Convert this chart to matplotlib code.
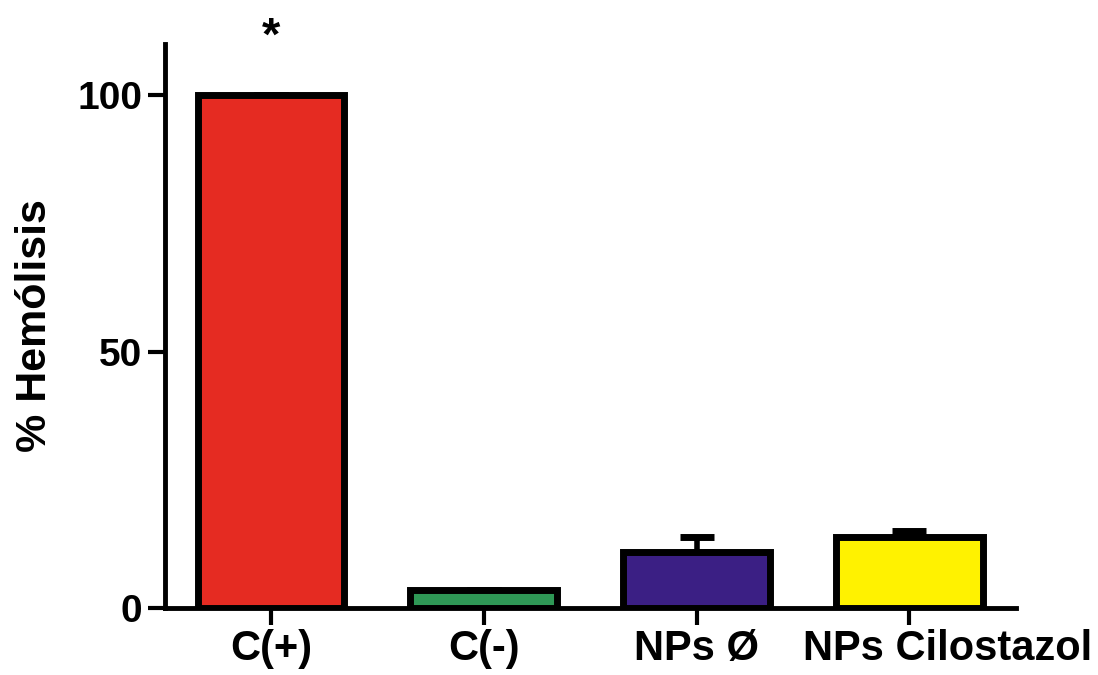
import matplotlib.pyplot as plt
import matplotlib.transforms as mtransforms
import numpy as np

# Hemolysis assay results
groups = ["C(+)", "C(-)", "NPs Ø", "NPs Cilostazol"]
hemolysis = [100.0, 3.6, 11.0, 13.9]
sem_upper = [0.0, 0.0, 2.8, 1.1]
bar_colors = ["#e52b22", "#2f9856", "#3b1f84", "#fff200"]

plt.rcParams['font.family'] = ['Liberation Sans', 'DejaVu Sans']
plt.rcParams['font.weight'] = 'bold'

fig = plt.figure(figsize=(10.98, 6.75), dpi=100)
ax = fig.add_axes([0.150, 0.099, 0.775, 0.836])

x = np.arange(len(groups))
ax.bar(x, hemolysis, width=0.69, color=bar_colors, edgecolor="black",
       linewidth=5, zorder=3)
ax.errorbar(x, hemolysis, yerr=[np.zeros(len(sem_upper)), sem_upper],
            fmt="none", ecolor="black", elinewidth=4, capsize=12,
            capthick=5, zorder=2)

# significance mark above the positive control
ax.text(x[0], 107, "*", ha="center", va="bottom", fontsize=34,
        fontweight="bold", clip_on=False)

ax.set_xlim(-0.5, 3.5)
ax.set_ylim(0, 110)
ax.set_yticks([0, 50, 100])
ax.set_xticks(x)
ax.set_xticklabels(groups)
ax.set_ylabel("% Hemólisis", fontsize=31, fontweight="bold", labelpad=16)

for side in ["top", "right"]:
    ax.spines[side].set_visible(False)
for side in ["left", "bottom"]:
    ax.spines[side].set_linewidth(3.5)

ax.tick_params(axis="both", length=12, width=3, pad=4)
ax.tick_params(axis="y", labelsize=28)
ax.tick_params(axis="x", labelsize=30, pad=3)
for lbl in ax.get_xticklabels() + ax.get_yticklabels():
    lbl.set_fontweight("bold")

# push the long last label to the right so it clears its neighbour
last = ax.get_xticklabels()[-1]
shift = mtransforms.ScaledTranslation(38 / 100, 0, fig.dpi_scale_trans)
last.set_transform(last.get_transform() + shift)

fig.savefig("out.png", dpi=100, facecolor="white")
